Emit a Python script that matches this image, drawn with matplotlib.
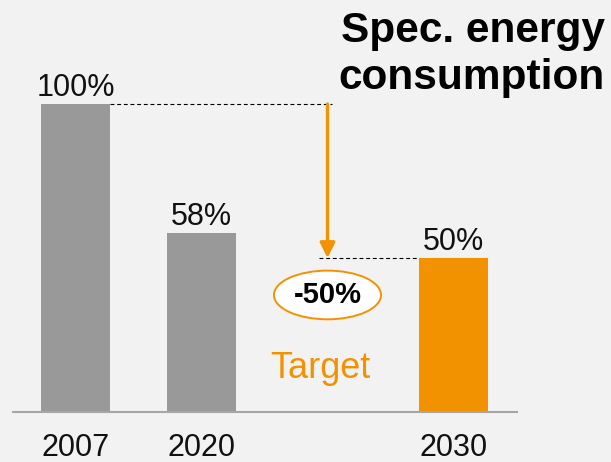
import matplotlib
matplotlib.use('Agg')
import matplotlib.pyplot as plt
from matplotlib.patches import Ellipse

plt.rcParams['font.family'] = ['Liberation Sans', 'DejaVu Sans']

YEARS = ['2007', '2020', '2030']
POSITIONS = [0, 1, 3]
VALUES = [100, 58, 50]
BAR_COLORS = ['#999999', '#999999', '#F39200']
TARGET_GAP_POS = 2
REDUCTION_LABEL = '-50%'

ORANGE = '#F39200'
BG = '#F2F2F2'

fig = plt.figure(figsize=(6.11, 4.62), dpi=100, facecolor=BG)
ax = fig.add_axes([12.5 / 611, 50 / 462, 504 / 611, 308 / 462])
ax.set_facecolor(BG)

bar_w = 0.55
ax.bar(POSITIONS, VALUES, width=bar_w, color=BAR_COLORS, zorder=2)

for x, v in zip(POSITIONS, VALUES):
    ax.annotate(f'{v}%', (x, v), xytext=(0, 6), textcoords='offset points',
                ha='center', va='baseline', fontsize=22, color='#111111')

ax.set_xlim(-0.5, 3.5)
ax.set_ylim(0, 100)
ax.set_xticks(POSITIONS)
ax.set_xticklabels(YEARS, fontsize=22, color='#111111')
ax.tick_params(axis='x', length=0, pad=15)
ax.set_yticks([])
for s in ['top', 'right', 'left']:
    ax.spines[s].set_visible(False)
ax.spines['bottom'].set_color('#A6A6A6')
ax.spines['bottom'].set_linewidth(1.5)

# dashed reference lines
dash = (0, (3.5, 2.5))
ax.plot([POSITIONS[0] + bar_w / 2, TARGET_GAP_POS + 0.035], [VALUES[0], VALUES[0]],
        color='black', lw=0.8, linestyle=dash, zorder=3, clip_on=False)
ax.plot([TARGET_GAP_POS - 0.07, POSITIONS[2] - bar_w / 2], [VALUES[2], VALUES[2]],
        color='black', lw=0.8, linestyle=dash, zorder=3, clip_on=False)

# arrow
ax.annotate('', xy=(TARGET_GAP_POS, VALUES[2]), xytext=(TARGET_GAP_POS, VALUES[0]),
            arrowprops=dict(arrowstyle='-|>,head_length=0.9,head_width=0.45',
                            color=ORANGE, lw=2.4, shrinkA=0, shrinkB=0),
            zorder=4, annotation_clip=False)

# ellipse with reduction
ell = Ellipse((TARGET_GAP_POS, 38), width=0.85, height=15.8, facecolor='white',
              edgecolor=ORANGE, lw=1.4, zorder=4)
ax.add_patch(ell)
ax.text(TARGET_GAP_POS, 38, REDUCTION_LABEL, ha='center', va='center', fontsize=21,
        fontweight='bold', color='black', zorder=5)

ax.text(TARGET_GAP_POS - 0.06, 11, 'Target', ha='center', va='baseline', fontsize=26,
        color=ORANGE, zorder=5)

fig.text(605 / 611, 1 - 11 / 462, 'Spec. energy\nconsumption', ha='right', va='top',
         fontsize=30.5, fontweight='bold', color='black', linespacing=1.22)

fig.savefig('out.png', dpi=100, facecolor=BG)
